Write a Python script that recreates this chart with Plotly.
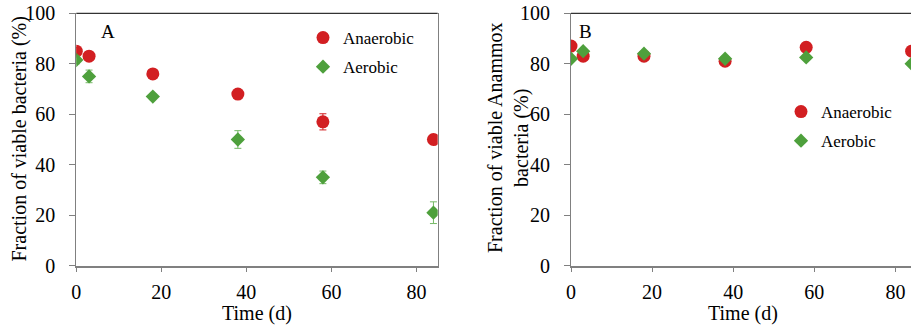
import plotly.graph_objects as go

# ---------------- data ----------------
time_a = [0, 3, 18, 38, 58, 84]
anaerobic_a = [85, 83, 76, 68, 57, 50]
anaerobic_a_err = [1.5, 1.5, 1.2, 1.5, 3.2, 1.2]
aerobic_a = [81.5, 75, 67, 50, 35, 21]
aerobic_a_err = [1.5, 2.5, 1.2, 3.5, 2.5, 4.3]

time_b = [0, 3, 18, 38, 58, 84]
anaerobic_b = [87, 83, 83, 81, 86.5, 85]
anaerobic_b_err = [1.0, 1.0, 1.0, 1.0, 1.0, 1.0]
aerobic_b = [82, 85, 84, 82, 82.5, 80]
aerobic_b_err = [1.0, 1.0, 1.0, 1.0, 1.0, 1.0]

x_ticks = [0, 20, 40, 60, 80]
y_ticks = [0, 20, 40, 60, 80, 100]

RED = "#D21F22"
GREEN = "#4EA03C"
GREEN_ERR = "#74B864"
FONT = "Liberation Serif"

W, H = 911, 329
# plot-area pixel geometry
ax_left, ax_right = 76.3, 437.7
bx_left = 571.0
px_per_unit_b = 4.055
y_top, y_bot = 13.3, 265.7

fig = go.Figure()

def add_series(x, y, err, name, color, ecolor, symbol, size, xa, ya, legend):
    fig.add_trace(go.Scatter(
        x=x, y=y, mode="markers", name=name,
        marker=dict(color=color, symbol=symbol, size=size, line=dict(width=0)),
        error_y=dict(type="data", array=err, color=ecolor, thickness=1, width=3.5),
        xaxis=xa, yaxis=ya, legend=legend, legendgroup=legend + name,
        cliponaxis=True,
    ))

add_series(time_a, anaerobic_a, anaerobic_a_err, "Anaerobic", RED, RED, "circle", 13, "x", "y", "legend")
add_series(time_a, aerobic_a, aerobic_a_err, "Aerobic", GREEN, GREEN_ERR, "diamond", 11, "x", "y", "legend")
add_series(time_b, anaerobic_b, anaerobic_b_err, "Anaerobic", RED, RED, "circle", 13, "x2", "y2", "legend2")
add_series(time_b, aerobic_b, aerobic_b_err, "Aerobic", GREEN, GREEN_ERR, "diamond", 11, "x2", "y2", "legend2")

ydom = [1 - y_bot / H, 1 - y_top / H]
b_range_max = (W - bx_left) / px_per_unit_b

common_x = dict(
    tickvals=x_ticks, ticks="outside", ticklen=5, tickwidth=1, tickcolor="#808080",
    showline=True, linecolor="#808080", linewidth=1.5, showgrid=False, zeroline=False,
    tickfont=dict(family=FONT, size=20, color="black"), ticklabelstandoff=3,
    automargin=False,
)
common_y = dict(
    range=[0, 100], tickvals=y_ticks, ticks="outside", ticklen=6, tickwidth=1, tickcolor="#808080",
    showline=True, linecolor="#808080", linewidth=1, showgrid=False, zeroline=False,
    tickfont=dict(family=FONT, size=20, color="black"), ticklabelstandoff=10,
    domain=ydom, automargin=False,
)

legend_common = dict(
    font=dict(family=FONT, size=17, color="black"), bgcolor="rgba(0,0,0,0)",
    borderwidth=0, traceorder="grouped", tracegroupgap=4, itemwidth=30,
    xanchor="left", yanchor="top", xref="paper", yref="paper",
)

fig.update_layout(
    width=W, height=H, margin=dict(l=0, r=0, t=0, b=0, autoexpand=False),
    paper_bgcolor="white", plot_bgcolor="white", showlegend=True,
    xaxis=dict(common_x, range=[0, 85], domain=[ax_left / W, ax_right / W], anchor="y"),
    yaxis=dict(common_y, anchor="x", mirror=True),
    xaxis2=dict(common_x, range=[0, b_range_max], domain=[bx_left / W, 1.0], anchor="y2"),
    yaxis2=dict(common_y, anchor="x2", mirror=False),
    legend=dict(legend_common, x=303 / W, y=1 - 20 / H),
    legend2=dict(legend_common, x=781 / W, y=1 - 94 / H),
)

# top borders (black) of the plot areas
fig.add_shape(type="line", xref="x domain", yref="y domain", x0=0, x1=1, y0=1, y1=1,
              line=dict(color="black", width=1))
fig.add_shape(type="line", xref="x2 domain", yref="y2 domain", x0=0, x1=1, y0=1, y1=1,
              line=dict(color="black", width=1))

ann_font = dict(family=FONT, size=20, color="black")
# panel letters and axis titles
fig.add_annotation(text="A", xref="paper", yref="paper", x=108 / W, y=1 - 31.5 / H,
                   xanchor="center", yanchor="middle", showarrow=False,
                   font=dict(family=FONT, size=19, color="black"))
fig.add_annotation(text="B", xref="paper", yref="paper", x=585 / W, y=1 - 31 / H,
                   xanchor="center", yanchor="middle", showarrow=False,
                   font=dict(family=FONT, size=19, color="black"))

fig.add_annotation(text="Time (d)", xref="paper", yref="paper", x=257 / W, y=1 - 313 / H,
                   xanchor="center", yanchor="middle", showarrow=False, font=ann_font)
fig.add_annotation(text="Time (d)", xref="paper", yref="paper", x=743 / W, y=1 - 313 / H,
                   xanchor="center", yanchor="middle", showarrow=False, font=ann_font)
fig.add_annotation(text="Fraction of viable bacteria (%)", xref="paper", yref="paper",
                   x=19 / W, y=1 - 139.5 / H, textangle=-90, showarrow=False,
                   xanchor="center", yanchor="middle", font=ann_font)
fig.add_annotation(text="Fraction of viable Anammox<br>bacteria (%)", xref="paper", yref="paper",
                   x=508 / W, y=1 - 138 / H, textangle=-90, showarrow=False,
                   xanchor="center", yanchor="middle", font=ann_font)

fig.write_html("out.html")
